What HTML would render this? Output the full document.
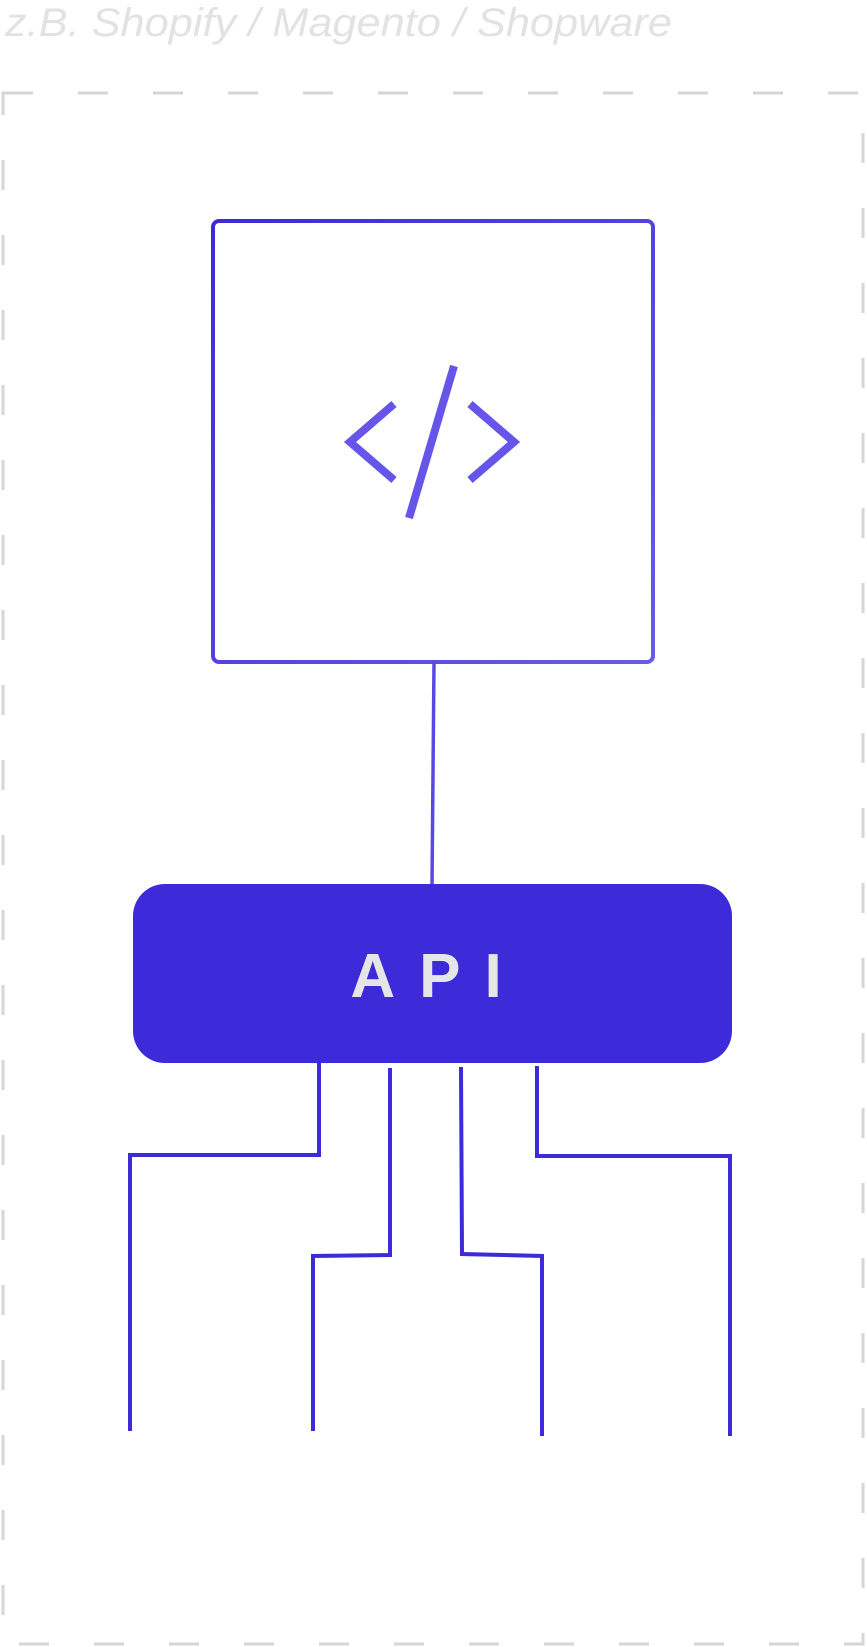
<!DOCTYPE html>
<html><head><meta charset="utf-8"><style>
html,body{margin:0;padding:0;background:#fff;width:867px;height:1647px;overflow:hidden}
</style></head><body>
<svg width="867" height="1647" viewBox="0 0 867 1647" xmlns="http://www.w3.org/2000/svg">
<defs>
<linearGradient id="g" x1="0" y1="0" x2="1" y2="1">
<stop offset="0" stop-color="#3d2ad9"/><stop offset="1" stop-color="#6a5aea"/>
</linearGradient>
</defs>
<text x="5" y="36" font-family="Liberation Sans, sans-serif" font-style="italic" font-size="40" fill="#e2e2e2" textLength="667" lengthAdjust="spacingAndGlyphs">z.B. Shopify / Magento / Shopware</text>
<rect x="3" y="93" width="860" height="1551" fill="none" stroke="#d6d6d6" stroke-width="3" stroke-dasharray="30 45"/>
<rect x="213" y="221" width="440" height="441" rx="6" fill="none" stroke="url(#g)" stroke-width="4"/>
<g fill="none" stroke="#6655e8" stroke-width="8" stroke-linecap="butt" stroke-linejoin="miter">
<polyline points="394,404 350,442 394,480"/>
<polyline points="470,404 514,442 470,480"/>
<line x1="454" y1="366" x2="409" y2="518"/>
</g>
<line x1="434" y1="662" x2="432" y2="886" stroke="#5a48e4" stroke-width="3.5"/>
<rect x="133" y="884" width="599" height="179" rx="32" fill="#3d2ad9"/>
<text x="438" y="997" text-anchor="middle" font-family="Liberation Sans, sans-serif" font-weight="bold" font-size="62" fill="#e6e6e6" letter-spacing="24">API</text>
<g fill="none" stroke="#3d2ad9" stroke-width="4">
<polyline points="319,1063 319,1155 130,1155 130,1431"/>
<polyline points="390,1068 390,1255 313,1256 313,1431"/>
<polyline points="461,1067 462,1254 542,1256 542,1436"/>
<polyline points="537,1066 537,1156 730,1156 730,1436"/>
</g>
</svg>
</body></html>
